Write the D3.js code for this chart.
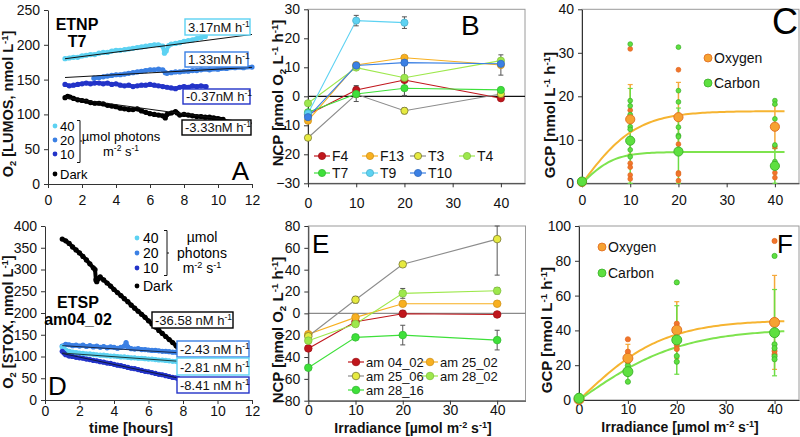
<!DOCTYPE html>
<html><head><meta charset="utf-8">
<script src="https://cdn.jsdelivr.net/npm/d3@7"></script>
<style>
body{margin:0;background:#fff}
svg{font-family:"Liberation Sans",Arial,sans-serif;display:block}
</style></head><body>
<svg id="c" width="800" height="437"></svg>
<script>
// ---------------- DATA ----------------
// Panel A (ETNP T7) O2 time series [hours, nmol L-1]
const A40 = [[1.0,180],[1.25,181],[1.5,182],[1.75,182],[2.0,184],[2.25,185],[2.5,186],[2.75,186],[3.0,188],[3.25,189],[3.5,189],[3.75,191],[4.0,192],[4.25,192],[4.5,193],[4.75,194],[5.0,195],[5.25,196],[5.5,197],[5.75,198],[6.0,199],[6.25,200],[6.5,200],[6.75,198],[6.85,188],[6.95,191],[7.1,199],[7.25,201],[7.5,202],[7.75,203],[8.0,205],[8.25,206],[8.5,207],[8.75,209],[9.0,210],[9.25,212]];
const A20 = [[2.7,152],[3.0,153],[3.25,154],[3.5,155],[3.75,156],[4.0,157],[4.25,157],[4.5,158],[4.75,159],[5.0,160],[5.25,161],[5.5,162],[5.75,163],[6.0,164],[6.25,164],[6.5,165],[6.75,164],[6.9,160],[7.0,159],[7.25,160],[7.5,161],[7.75,161],[8.0,162],[8.25,162],[8.5,163],[8.75,163],[9.0,164],[9.5,164],[10.0,165],[10.5,166],[11.0,167],[11.5,167],[12.0,168]];
const A10 = [[1.0,143],[1.25,141],[1.5,142],[1.75,143],[2.0,144],[2.25,145],[2.5,144],[2.75,145],[3.0,145],[3.25,144],[3.5,145],[3.75,143],[4.0,144],[4.25,142],[4.5,141],[4.75,142],[5.0,140],[5.25,141],[5.5,142],[5.75,142],[6.0,143],[6.25,142],[6.5,141],[6.75,140],[7.0,139],[7.25,138],[7.5,137],[7.75,139],[8.0,140],[8.25,139],[8.5,141],[8.75,140],[9.0,141],[9.3,140]];
const ADark = [[1.0,124],[1.15,126],[1.3,125],[1.5,123],[1.75,121],[2.0,120],[2.25,119],[2.5,117],[2.75,116],[3.0,116],[3.25,115],[3.5,113],[3.75,112],[4.0,111],[4.25,109],[4.5,108],[4.75,107],[5.0,107],[5.25,108],[5.5,105],[5.75,103],[6.0,101],[6.25,100],[6.5,99],[6.75,98],[6.9,95],[7.0,100],[7.25,102],[7.5,104],[7.6,102],[7.75,99],[8.0,100],[8.25,99],[8.5,98],[8.75,97],[9.0,97],[9.25,96],[9.5,96],[9.75,95],[10.0,94],[10.3,93]];
// linear fits: [t start, t end, value at start, slope nM/h]
const A_fit40 = [1, 12, 180, 3.17];
const A_fit20 = [1, 12, 153, 1.33];
const A_fitDark = [1, 12, 124, -3.33];
const A_rates = ["3.17nM h", "1.33nM h", "-0.37nM h", "-3.33nM h"];

// Panel D (ETSP am04_02)
const DDark = [[1.0,370],[1.2,366],[1.4,360],[1.6,352],[1.8,345],[2.0,338],[2.2,330],[2.4,322],[2.6,313],[2.8,304],[2.9,300],[2.95,276],[3.0,272],[3.1,279],[3.2,283],[3.4,276],[3.6,269],[3.8,262],[4.0,254],[4.2,247],[4.4,240],[4.6,233],[4.8,226],[5.0,218],[5.2,211],[5.4,204],[5.6,197],[5.8,190],[6.0,182],[6.2,175],[6.4,168],[6.6,160],[6.8,153],[7.0,146],[7.2,139],[7.4,132],[7.6,125],[7.7,121]];
const D20 = [[1.0,124],[1.2,128],[1.4,127],[1.6,125],[1.8,126],[2.0,124],[2.2,126],[2.4,123],[2.6,125],[2.8,122],[3.0,124],[3.2,121],[3.4,123],[3.6,120],[3.8,122],[4.0,121],[4.2,119],[4.4,121],[4.6,124],[4.7,132],[4.8,122],[5.0,118],[5.2,117],[5.4,118],[5.6,116],[5.8,116],[6.0,115],[6.2,114],[6.4,114],[6.6,113],[6.8,112],[7.0,112],[7.2,111],[7.4,110],[7.6,110],[7.7,109]];
const D40 = [[1.0,122],[1.1,118],[1.2,115],[1.4,112],[1.6,110],[1.8,109],[2.0,108],[2.2,107],[2.4,106],[2.6,106],[2.8,105],[3.0,104],[3.2,103],[3.4,103],[3.6,102],[3.8,101],[4.0,101],[4.2,100],[4.4,99],[4.6,99],[4.8,98],[5.0,97],[5.2,97],[5.4,96],[5.6,96],[5.8,95],[6.0,94],[6.2,94],[6.4,93],[6.6,92],[6.8,92],[7.0,91],[7.2,90],[7.4,89],[7.6,89],[7.7,88]];
const D10 = [[1.0,112],[1.1,108],[1.2,104],[1.4,101],[1.6,100],[1.8,98],[2.0,97],[2.2,96],[2.4,94],[2.6,93],[2.8,91],[3.0,90],[3.2,88],[3.4,87],[3.6,85],[3.8,84],[4.0,82],[4.2,80],[4.4,79],[4.6,77],[4.8,75],[5.0,73],[5.2,72],[5.4,70],[5.6,68],[5.8,66],[6.0,65],[6.2,63],[6.4,61],[6.6,59],[6.8,58],[7.0,56],[7.2,54],[7.4,52],[7.6,51],[7.7,50]];
const D_fit20 = [1, 7.7, 125, -2.43];
const D_fit40 = [1, 7.7, 108, -2.81];
const D_fit10 = [1, 7.7, 107, -8.41];
const D_rates = ["-36.58 nM h", "-2.43 nM h", "-2.81 nM h", "-8.41 nM h"];

// Panel B NCP vs irradiance
const irr = [0, 10, 20, 40];
const B_names = ["F4","F13","T3","T4","T7","T9","T10"];
const B_F4  = [-6.3, 2.2, 5.6, -0.7];
const B_F13 = [-8.4, 10.8, 13.3, 10.8];
const B_T3  = [-14.3, 0.7, -5.0, 0.8];
const B_T4  = [-2.4, 9.9, 6.4, 12.3];
const B_T7  = [-5.5, 0.8, 2.8, 2.2];
const B_T9  = [-5.9, 26.1, 25.4, null];
const B_T10 = [-7.2, 10.6, 11.6, 11.2];
const B_errF4 = [0, 1.5, 5.5, 0];
const B_errF13 = [0, 0, 0, 3.5];
const B_errT3 = [0, 2.5, 1.0, 0];
const B_errT9 = [0, 1.8, 2.0, 0];
const B_errT7 = [0, 0, 2.5, 0];

// Panel E NCP vs irradiance
const E_names = ["am 04_02","am 25_02","am 25_06","am 28_02","am 28_16"];
const E_0402 = [-32.1, -7.7, -0.3, -1.0];
const E_2502 = [-19.2, -3.7, 8.8, 8.8];
const E_2506 = [-21.0, 12.5, 44.9, 68.0];
const E_2802 = [-25.0, -9.8, 18.3, 20.7];
const E_2816 = [-49.8, -22.0, -19.9, -24.5];
const E_err0402 = [0, 2, 3, 0];
const E_err2506 = [0, 3, 0, 33];
const E_err2802 = [0, 0, 4.5, 3];
const E_err2816 = [0, 0, 9, 9];

// Panel C GCP (ETNP)
const C_O_mean = [0.3, 14.7, 15.2, 13.0];
const C_O_err  = [0, 8, 8, 5];
const C_C_mean = [0.4, 9.8, 7.3, 4.0];
const C_C_err  = [0, 12, 10, 4];
const C_O_pts = [[0.2],[30.9,16.8,4.6,3.7,1.9,1.0],[26.1,9.0,2.4,2.1,0.6],[8.4,3.7,2.4,1.3]];
const C_C_pts = [[0.6],[32.0,19.0,17.8,15.8,13.0,12.4,7.7,6.1],[31.3,21.3,18.7,12.9,11.0,10.7],[19.0,18.2,14.8,8.8,5.0]];
const C_fitO = [16.6, 1.456]; // Pmax, alpha (P = Pmax*tanh(alpha*I/Pmax))
const C_fitC = [7.2, 1.07];

// Panel F GCP (ETSP)
const F_O_mean = [0.3, 24.0, 40.2, 44.6];
const F_O_err  = [0, 8, 16.3, 27];
const F_C_mean = [1.0, 16.3, 34.5, 38.7];
const F_C_err  = [0, 6, 19.7, 24.8];
const F_O_pts = [[0],[34.9,27.8],[43.9,31.6,29.3],[91.4,28.1,26.2]];
const F_C_pts = [[2.5],[22.0,19.8,10.5],[67.6,25.3,22.0],[82.8,32.0,29.8,25.1,23.4]];
const F_fitO = [46, 2.66];
const F_fitC = [41, 1.955];

// ---------------- STYLE ----------------
const FONT = "Liberation Sans, Arial, sans-serif";
const FS = 14;
const c40 = "#5dd2f2", c20 = "#3b80e4", c10 = "#2333c8", cDark = "#000";
const cRed = "#c0161c", cOrange = "#f8b020", cYellow = "#e6ea40", cLGreen = "#9de84c", cGreen = "#3ee03a";
const oxyFill = "#f6a232", oxyStroke = "#e06a1e", oxySmall = "#f2742c";
const carbFill = "#5ee040", carbStroke = "#3aae28";
const oxyCurve = "#f6b431", carbCurve = "#7ee34e";

const svg = d3.select("#c");

function rich(sel, parts, fs) {
  let shift = 0;
  parts.forEach(([t, k]) => {
    let target = 0, size = fs;
    if (k === "sup") { target = -fs * 0.36; size = fs * 0.65; }
    if (k === "sub") { target = fs * 0.22; size = fs * 0.65; }
    sel.append("tspan").text(t).attr("dy", target - shift).attr("font-size", size);
    shift = target;
  });
  return sel;
}

function drawAxes(g, x, y, xticks, yticks, xpad) {
  const y0 = y.range()[0], x0 = x.range()[0];
  const ax = g.append("g").attr("transform", `translate(0,${y0})`)
    .call(d3.axisBottom(x).tickValues(xticks).tickSize(4).tickPadding(xpad).tickSizeOuter(0));
  const ay = g.append("g").attr("transform", `translate(${x0},0)`)
    .call(d3.axisLeft(y).tickValues(yticks).tickSize(4).tickPadding(4).tickSizeOuter(0));
  [ax, ay].forEach(a => {
    a.attr("font-size", FS).attr("font-family", FONT);
    a.selectAll("text").attr("fill", "#111");
    a.selectAll("line,path").attr("stroke", "#333");
  });
}

function frame(g, x, y) {
  const [xa, xb] = x.range(), [ya, yb] = y.range();
  g.append("rect").attr("x", xa).attr("y", yb).attr("width", xb - xa).attr("height", ya - yb)
    .attr("fill", "none").attr("stroke", "#9a9a9a").attr("stroke-width", 1);
}

function yTitle(g, parts, xb, yc, fs) {
  fs = fs || 15;
  rich(g.append("text").attr("transform", `translate(${xb},${yc}) rotate(-90)`)
    .attr("text-anchor", "middle").attr("font-weight", "bold").attr("font-size", fs).attr("fill", "#111"), parts, fs);
}
function xTitle(g, parts, xc, yb, fs) {
  rich(g.append("text").attr("x", xc).attr("y", yb).attr("text-anchor", "middle")
    .attr("font-weight", "bold").attr("font-size", fs).attr("fill", "#111"), parts, fs);
}
function bigLetter(g, t, x, y, fs, anchor) {
  g.append("text").attr("x", x).attr("y", y).attr("font-size", fs).attr("text-anchor", anchor || "start").attr("fill", "#000").text(t);
}

function trace(g, x, y, data, color) {
  g.append("path").datum(data).attr("d", d3.line().x(d => x(d[0])).y(d => y(d[1])))
    .attr("fill", "none").attr("stroke", color).attr("stroke-width", 4)
    .attr("stroke-linejoin", "round").attr("stroke-linecap", "round");
  g.selectAll(null).data(data).enter().append("circle")
    .attr("cx", d => x(d[0])).attr("cy", d => y(d[1])).attr("r", 2.6).attr("fill", color);
}
function fitLine(g, x, y, f, color) {
  const [t0, t1, v0, s] = f;
  g.append("line").attr("x1", x(t0)).attr("y1", y(v0)).attr("x2", x(t1)).attr("y2", y(v0 + s * (t1 - t0)))
    .attr("stroke", color || "#111").attr("stroke-width", 1);
}
function rateBox(g, label, bx, by, bw, bh, color) {
  g.append("rect").attr("x", bx).attr("y", by).attr("width", bw).attr("height", bh)
    .attr("fill", "#fff").attr("stroke", color).attr("stroke-width", 1.4);
  rich(g.append("text").attr("x", bx + 3).attr("y", by + bh - 3.5).attr("font-size", 13).attr("fill", "#111"),
    [[label, ""], ["-1", "sup"]], 13);
}

const sup = (s) => [s, "sup"];
const nrm = (s) => [s, ""];
const sub = (s) => [s, "sub"];

// ================= PANEL A =================
{
  const g = svg.append("g");
  const x = d3.scaleLinear([0, 12], [48, 252]);
  const y = d3.scaleLinear([0, 250], [184, 10]);
  drawAxes(g, x, y, d3.range(0, 13, 2), d3.range(0, 251, 50), 7);
  trace(g, x, y, A40, c40);
  trace(g, x, y, A20, c20);
  trace(g, x, y, A10, c10);
  trace(g, x, y, ADark, cDark);
  fitLine(g, x, y, A_fit40);
  fitLine(g, x, y, A_fit20);
  fitLine(g, x, y, A_fitDark);
  rateBox(g, A_rates[0], 185, 19, 65, 16, c40);
  rateBox(g, A_rates[1], 185, 52, 63, 15, c20);
  rateBox(g, A_rates[2], 183, 89, 67, 15, c10);
  rateBox(g, A_rates[3], 182, 120, 69, 15, cDark);
  g.append("text").attr("x", 77).attr("y", 30).attr("text-anchor", "middle").attr("font-weight", "bold").attr("font-size", 16).text("ETNP");
  g.append("text").attr("x", 77).attr("y", 47).attr("text-anchor", "middle").attr("font-weight", "bold").attr("font-size", 16).text("T7");
  const leg = [["40", c40, 126], ["20", c20, 140], ["10", c10, 154], ["Dark", cDark, 174]];
  leg.forEach(([t, c, yy]) => {
    g.append("circle").attr("cx", 55).attr("cy", yy).attr("r", 2.4).attr("fill", c);
    g.append("text").attr("x", 60).attr("y", yy + 4.5).attr("font-size", 13).text(t);
  });
  g.append("path").attr("d", "M77,120.5 H80 V162.5 H77 M80,141 H82").attr("fill", "none").attr("stroke", "#111").attr("stroke-width", 1);
  g.append("text").attr("x", 121).attr("y", 141).attr("text-anchor", "middle").attr("font-size", 13).text("µmol photons");
  rich(g.append("text").attr("x", 121).attr("y", 156).attr("text-anchor", "middle").attr("font-size", 13),
    [nrm("m"), sup("-2"), nrm(" s"), sup("-1")], 13);
  bigLetter(g, "A", 249, 180, 26, "end");
  yTitle(g, [nrm("O"), sub("2"), nrm(" [LUMOS, nmol L"), sup("-1"), nrm("]")], 13, 104, 14.5);
}

// ================= PANEL D =================
{
  const g = svg.append("g");
  const x = d3.scaleLinear([0, 12], [45, 252]);
  const y = d3.scaleLinear([0, 400], [400, 226]);
  drawAxes(g, x, y, d3.range(0, 13, 2), d3.range(0, 401, 50), 2);
  trace(g, x, y, DDark, cDark);
  trace(g, x, y, D20, c20);
  trace(g, x, y, D40, c40);
  trace(g, x, y, D10, c10);
  fitLine(g, x, y, D_fit20, "#1b2a4a");
  fitLine(g, x, y, D_fit40, "#1b3a3a");
  fitLine(g, x, y, D_fit10, "#101840");
  rateBox(g, D_rates[0], 152, 312, 81, 16, cDark);
  rateBox(g, D_rates[1], 177, 341, 72, 16, c20);
  rateBox(g, D_rates[2], 177, 358, 72, 17, c40);
  rateBox(g, D_rates[3], 177, 377, 72, 16, c10);
  g.append("text").attr("x", 78).attr("y", 308).attr("text-anchor", "middle").attr("font-weight", "bold").attr("font-size", 16).text("ETSP");
  g.append("text").attr("x", 78).attr("y", 325).attr("text-anchor", "middle").attr("font-weight", "bold").attr("font-size", 16).text("am04_02");
  const leg = [["40", c40, 238], ["20", c20, 253], ["10", c10, 268], ["Dark", cDark, 286]];
  leg.forEach(([t, c, yy]) => {
    g.append("circle").attr("cx", 137).attr("cy", yy).attr("r", 2.4).attr("fill", c);
    g.append("text").attr("x", 143).attr("y", yy + 5).attr("font-size", 14).text(t);
  });
  g.append("path").attr("d", "M164,230.5 H167 V275.5 H164 M167,253 H169").attr("fill", "none").attr("stroke", "#111").attr("stroke-width", 1);
  g.append("text").attr("x", 202).attr("y", 242).attr("text-anchor", "middle").attr("font-size", 14).text("µmol");
  g.append("text").attr("x", 202).attr("y", 258).attr("text-anchor", "middle").attr("font-size", 14).text("photons");
  rich(g.append("text").attr("x", 202).attr("y", 273).attr("text-anchor", "middle").attr("font-size", 14),
    [nrm("m"), sup("-2"), nrm(" s"), sup("-1")], 14);
  bigLetter(g, "D", 48, 395, 26);
  yTitle(g, [nrm("O"), sub("2"), nrm(" [STOX, nmol L"), sup("-1"), nrm("]")], 13, 322, 14.5);
  xTitle(g, [nrm("time [hours]")], 131, 433, 14.5);
}

// ============ NCP panels (B, E) ============
function ncpPanel(cfg) {
  const g = svg.append("g");
  const { x, y } = cfg;
  frame(g, x, y);
  g.append("line").attr("x1", x.range()[0]).attr("x2", x.range()[1]).attr("y1", y(0)).attr("y2", y(0))
    .attr("stroke", cfg.zeroColor).attr("stroke-width", 1.2);
  drawAxes(g, x, y, [0, 10, 20, 30, 40], cfg.yticks, cfg.xpad);
  const line = d3.line().defined(d => d[1] !== null).x(d => x(d[0])).y(d => y(d[1]));
  cfg.series.forEach(s => {
    g.append("path").datum(irr.map((v, i) => [v, s.vals[i]])).attr("d", line)
      .attr("fill", "none").attr("stroke", s.line || s.color).attr("stroke-width", 1.1);
  });
  cfg.series.forEach(s => {
    if (!s.err) return;
    irr.forEach((v, i) => {
      const m = s.vals[i], e = s.err[i];
      if (m === null || !e) return;
      const top = Math.min(m + e, y.domain()[1]);
      g.append("line").attr("x1", x(v)).attr("x2", x(v)).attr("y1", y(m - e)).attr("y2", y(top)).attr("stroke", "#555").attr("stroke-width", 1);
      [m - e, top].forEach(b => g.append("line").attr("x1", x(v) - 2.5).attr("x2", x(v) + 2.5).attr("y1", y(b)).attr("y2", y(b)).attr("stroke", "#555").attr("stroke-width", 1));
    });
  });
  cfg.series.forEach(s => {
    irr.forEach((v, i) => {
      if (s.vals[i] === null) return;
      g.append("circle").attr("cx", x(v)).attr("cy", y(s.vals[i])).attr("r", cfg.r)
        .attr("fill", s.color).attr("stroke", s.stroke || d3.color(s.color).darker(0.5)).attr("stroke-width", 0.8);
    });
  });
  cfg.legend.forEach(([s, lx, ly]) => {
    g.append("line").attr("x1", lx - 8).attr("x2", lx + 8).attr("y1", ly).attr("y2", ly).attr("stroke", s.line || s.color).attr("stroke-width", 1.2);
    g.append("circle").attr("cx", lx).attr("cy", ly).attr("r", cfg.r).attr("fill", s.color).attr("stroke", s.stroke || d3.color(s.color).darker(0.5)).attr("stroke-width", 0.8);
    g.append("text").attr("x", lx + 10).attr("y", ly + 5).attr("font-size", cfg.legFS).attr("fill", "#111").text(s.name);
  });
  return g;
}

{
  const x = d3.scaleLinear([0, 45], [308, 525]);
  const y = d3.scaleLinear([-30, 30], [183.3, 9.3]);
  const S = [
    { name: B_names[0], vals: B_F4, color: cRed, err: B_errF4 },
    { name: B_names[1], vals: B_F13, color: cOrange, err: B_errF13 },
    { name: B_names[2], vals: B_T3, color: cYellow, line: "#8c8c8c", stroke: "#7a7a30", err: B_errT3 },
    { name: B_names[3], vals: B_T4, color: cLGreen },
    { name: B_names[4], vals: B_T7, color: cGreen, err: B_errT7 },
    { name: B_names[5], vals: B_T9, color: c40, err: B_errT9 },
    { name: B_names[6], vals: B_T10, color: c20 }
  ];
  const g = ncpPanel({ x, y, yticks: d3.range(-30, 31, 10), zeroColor: "#111", r: 3.6, legFS: 14, series: S, xpad: 11,
    legend: [[S[0], 322, 156], [S[1], 370, 156], [S[2], 418, 156], [S[3], 467, 156], [S[4], 322, 173], [S[5], 370, 173], [S[6], 418, 173]] });
  bigLetter(g, "B", 461, 35, 28);
  yTitle(g, [nrm("NCP [nmol O"), sub("2"), nrm(" L"), sup("-1"), nrm(" h"), sup("-1"), nrm("]")], 283, 93);
}
{
  const x = d3.scaleLinear([0, 46], [308.3, 525.5]);
  const y = d3.scaleLinear([-80, 80], [400.7, 226]);
  const S = [
    { name: E_names[0], vals: E_0402, color: cRed, err: E_err0402 },
    { name: E_names[1], vals: E_2502, color: cOrange },
    { name: E_names[2], vals: E_2506, color: cYellow, line: "#8c8c8c", stroke: "#7a7a30", err: E_err2506 },
    { name: E_names[3], vals: E_2802, color: cLGreen, err: E_err2802 },
    { name: E_names[4], vals: E_2816, color: cGreen, err: E_err2816 }
  ];
  const g = ncpPanel({ x, y, yticks: d3.range(-80, 81, 20), zeroColor: "#8a8a8a", r: 3.8, legFS: 13, series: S, xpad: 0,
    legend: [[S[0], 356, 362], [S[1], 430, 362], [S[2], 356, 376], [S[3], 430, 376], [S[4], 356, 390]] });
  bigLetter(g, "E", 312, 253, 26);
  yTitle(g, [nrm("NCP [nmol O"), sub("2"), nrm(" L"), sup("-1"), nrm(" h"), sup("-1"), nrm("]")], 283, 330);
  xTitle(g, [nrm("Irradiance [µmol m"), sup("-2"), nrm(" s"), sup("-1"), nrm("]")], 413, 433, 14);
}

// ============ GCP panels (C, F) ============
function gcpPanel(cfg) {
  const g = svg.append("g");
  const { x, y } = cfg;
  frame(g, x, y);
  drawAxes(g, x, y, [0, 10, 20, 30, 40], cfg.yticks, cfg.xpad);
  const errs = (mean, err, color) => irr.forEach((v, i) => {
    if (!err[i]) return;
    const lo = Math.max(0, mean[i] - err[i]), hi = mean[i] + err[i];
    g.append("line").attr("x1", x(v)).attr("x2", x(v)).attr("y1", y(lo)).attr("y2", y(hi)).attr("stroke", color).attr("stroke-width", 1.5);
    [lo, hi].forEach(b => g.append("line").attr("x1", x(v) - 2.5).attr("x2", x(v) + 2.5).attr("y1", y(b)).attr("y2", y(b)).attr("stroke", color).attr("stroke-width", 1.2));
  });
  errs(cfg.Omean, cfg.Oerr, "#f5a83a");
  errs(cfg.Cmean, cfg.Cerr, "#6cdc44");
  const curve = (p, col) => {
    const I = d3.range(0, 42.01, 0.5);
    g.append("path").datum(I).attr("d", d3.line().x(d => x(d)).y(d => y(p[0] * Math.tanh(p[1] * d / p[0]))))
      .attr("fill", "none").attr("stroke", col).attr("stroke-width", 2);
  };
  curve(cfg.fitO, oxyCurve);
  curve(cfg.fitC, carbCurve);
  const pts = (arr, fill, stroke) => irr.forEach((v, i) => arr[i].forEach(val =>
    g.append("circle").attr("cx", x(v)).attr("cy", y(val)).attr("r", cfg.rs).attr("fill", fill).attr("stroke", stroke).attr("stroke-width", 0.7)));
  pts(cfg.Opts, oxySmall, oxyStroke);
  pts(cfg.Cpts, carbFill, carbStroke);
  irr.forEach((v, i) => g.append("circle").attr("cx", x(v)).attr("cy", y(cfg.Omean[i])).attr("r", cfg.rl).attr("fill", oxyFill).attr("stroke", oxyStroke).attr("stroke-width", 0.9));
  irr.forEach((v, i) => g.append("circle").attr("cx", x(v)).attr("cy", y(cfg.Cmean[i])).attr("r", cfg.rl).attr("fill", carbFill).attr("stroke", carbStroke).attr("stroke-width", 0.9));
  [["Oxygen", oxyFill, oxyStroke, cfg.leg[1]], ["Carbon", carbFill, carbStroke, cfg.leg[2]]].forEach(([t, f, s, ly]) => {
    g.append("circle").attr("cx", cfg.leg[0]).attr("cy", ly).attr("r", 4).attr("fill", f).attr("stroke", s).attr("stroke-width", 0.8);
    g.append("text").attr("x", cfg.leg[0] + 6).attr("y", ly + 5).attr("font-size", 14).attr("fill", "#111").text(t);
  });
  return g;
}
{
  const x = d3.scaleLinear([0, 45], [582, 799]);
  const y = d3.scaleLinear([0, 40], [183.3, 9.3]);
  const g = gcpPanel({ x, y, yticks: d3.range(0, 41, 10), Omean: C_O_mean, Oerr: C_O_err, Cmean: C_C_mean, Cerr: C_C_err,
    Opts: C_O_pts, Cpts: C_C_pts, fitO: C_fitO, fitC: C_fitC, rs: 2.4, rl: 4.6, leg: [708, 58, 83], xpad: 8 });
  bigLetter(g, "C", 798, 34, 36, "end");
  yTitle(g, [nrm("GCP [nmol L"), sup("-1"), nrm(" h"), sup("-1"), nrm("]")], 555, 115);
}
{
  const x = d3.scaleLinear([0, 45], [579, 799]);
  const y = d3.scaleLinear([0, 100], [400, 226]);
  const g = gcpPanel({ x, y, yticks: d3.range(0, 101, 20), Omean: F_O_mean, Oerr: F_O_err, Cmean: F_C_mean, Cerr: F_C_err,
    Opts: F_O_pts, Cpts: F_C_pts, fitO: F_fitO, fitC: F_fitC, rs: 2.6, rl: 5, leg: [602, 247, 273], xpad: 0 });
  bigLetter(g, "F", 777, 253, 26);
  yTitle(g, [nrm("GCP [nmol L"), sup("-1"), nrm(" h"), sup("-1"), nrm("]")], 552, 330);
  xTitle(g, [nrm("Irradiance [µmol m"), sup("-2"), nrm(" s"), sup("-1"), nrm("]")], 680, 432, 14);
}
</script>
</body></html>
